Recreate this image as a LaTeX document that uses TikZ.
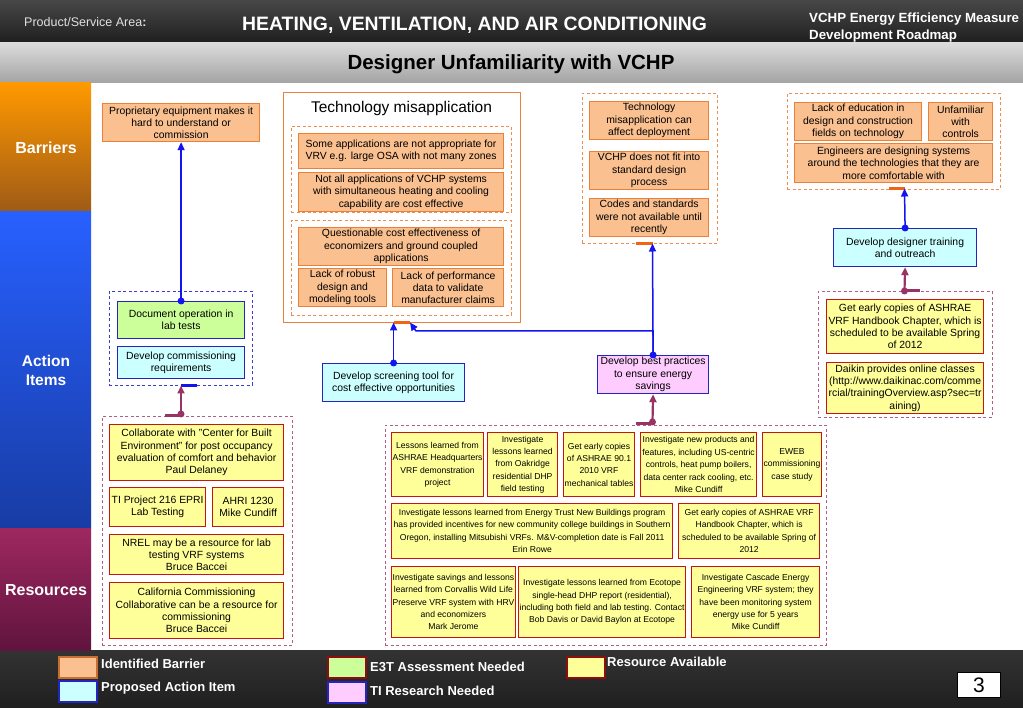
\documentclass[tikz,border=0pt]{standalone}
\usepackage{fontspec}
\setmainfont{Liberation Sans}
\usetikzlibrary{arrows.meta}

\definecolor{barfill}{RGB}{250,192,144}
\definecolor{bardraw}{RGB}{236,128,56}
\definecolor{barmark}{RGB}{240,100,20}
\definecolor{actfill}{RGB}{204,255,255}
\definecolor{actdraw}{RGB}{36,36,190}
\definecolor{e3tfill}{RGB}{204,255,153}
\definecolor{tifill}{RGB}{255,204,255}
\definecolor{resfill}{RGB}{255,255,153}
\definecolor{resdraw}{RGB}{200,20,20}
\definecolor{linkblue}{RGB}{20,20,240}
\definecolor{linkmaroon}{RGB}{153,51,102}
\definecolor{grpblue}{RGB}{60,60,210}
\definecolor{grpmaroon}{RGB}{175,95,135}
\definecolor{grporange}{RGB}{240,140,80}

\begin{document}
\begin{tikzpicture}[x=1pt,y=-1pt,
  box/.style={draw, line width=1.2pt, anchor=north west, align=center, inner sep=1pt,
    font=\fontsize{10.4}{12.3}\selectfont},
  sz/.style 2 args={minimum width=#1, minimum height=#2},
  barrier/.style={box, fill=barfill, draw=bardraw},
  action/.style={box, fill=actfill, draw=actdraw},
  e3t/.style={box, fill=e3tfill, draw=actdraw},
  tires/.style={box, fill=tifill, draw=actdraw},
  resource/.style={box, fill=resfill, draw=resdraw},
  smalltext/.style={font=\fontsize{8.6}{12.4}\selectfont},
  grp/.style={draw, dashed, dash pattern=on 3pt off 2.5pt, line width=0.9pt, anchor=north west},
  obar/.style={barmark, line width=3.5pt},
  bbar/.style={linkblue, line width=3.5pt},
  mbar/.style={linkmaroon, line width=3pt},
  blink/.style={linkblue, line width=1.5pt, -{Triangle[length=8pt,width=7pt]}},
  mlink/.style={linkmaroon, line width=2.2pt, -{Triangle[length=8pt,width=7pt]}},
  bandtext/.style={text=white, align=center, font=\bfseries\fontsize{16}{19}\selectfont},
  swatch/.style={draw, line width=1.5pt, anchor=north west},
  legtext/.style={anchor=west, inner sep=0pt, text=white, font=\bfseries\fontsize{13}{15}\selectfont}]
\useasboundingbox (0,0) rectangle (1023,708);

% page bands
\fill[white] (0,0) rectangle (1023,708);
\shade[top color=black!72, bottom color=black!88] (0,0) rectangle (1023,43);
\shade[top color=black!14, bottom color=black!36] (0,43) rectangle (1023,83);
\shade[top color=black!80, bottom color=black!88] (0,650) rectangle (1023,708);
\shade[top color={rgb,255:red,255;green,153;blue,0}, bottom color={rgb,255:red,158;green,90;blue,22}] (0,83) rectangle (91,212);
\shade[top color={rgb,255:red,40;green,96;blue,255}, bottom color={rgb,255:red,24;green,60;blue,165}] (0,212) rectangle (91,528);
\shade[top color={rgb,255:red,158;green,40;blue,96}, bottom color={rgb,255:red,96;green,20;blue,62}] (0,528) rectangle (91,650);

% titles
\node[anchor=west, inner sep=0pt, text=white!88!black, font=\fontsize{12.5}{15}\selectfont] (area) at (24,22) {Product/Service Area\textbf{:}};
\node[anchor=west, inner sep=0pt, text=white, font=\bfseries\fontsize{19.4}{23}\selectfont] (hvac) at (242,25) {HEATING, VENTILATION, AND AIR CONDITIONING};
\node[anchor=west, inner sep=0pt, align=left, text=white, font=\bfseries\fontsize{13.3}{16.5}\selectfont] (roadmap) at (809,27.5) {VCHP Energy Efficiency Measure\\Development Roadmap};
\node[font=\bfseries\fontsize{20.5}{24}\selectfont] (title) at (511,64) {Designer Unfamiliarity with VCHP};
\node[bandtext] (lbarriers) at (46,148) {Barriers};
\node[bandtext, font=\bfseries\fontsize{15.5}{19}\selectfont] (lactions) at (46,370) {Action\\Items};
\node[bandtext] (lresources) at (46,590) {Resources};

% barriers
\node[barrier, sz={157}{38}] (b1) at (102,103) {Proprietary equipment makes it\\hard to understand or\\commission};
\node[box, draw=bardraw, sz={237}{230}] (tech) at (283,92) {};
\node[font=\fontsize{15.5}{18}\selectfont] (techtitle) at (401.5,108) {Technology misapplication};
\node[grp, draw=grporange, sz={220}{86}] (tg1) at (291,126) {};
\node[grp, draw=grporange, sz={220}{95}] (tg2) at (291,220) {};
\node[barrier, sz={205}{35}] (t1) at (298,133) {Some applications are not appropriate for\\VRV e.g. large OSA with not many zones};
\node[barrier, sz={205}{39}] (t2) at (298,172) {Not all applications of VCHP systems\\with simultaneous heating and cooling\\capability are cost effective};
\node[barrier, sz={205}{38}] (t3) at (298,227) {Questionable cost effectiveness of\\economizers and ground coupled\\applications};
\node[barrier, sz={88}{38}] (t4) at (298,268) {Lack of robust\\design and\\modeling tools};
\node[barrier, sz={111}{38}] (t5) at (392,268) {Lack of performance\\data to validate\\manufacturer claims};

\node[grp, draw=grporange, sz={135}{150}] (g3) at (582,93) {};
\node[barrier, sz={119}{38}] (g3a) at (589,101) {Technology\\misapplication can\\affect deployment};
\node[barrier, sz={119}{38}] (g3b) at (589,151) {VCHP does not fit into\\standard design\\process};
\node[barrier, sz={119}{38}] (g3c) at (589,198) {Codes and standards\\were not available until\\recently};

\node[grp, draw=grporange, sz={213}{96}] (g4) at (787,93) {};
\node[barrier, sz={127}{38}] (g4a) at (794,102) {Lack of education in\\design and construction\\fields on technology};
\node[barrier, sz={64}{38}] (g4b) at (928,102) {Unfamiliar\\with\\controls};
\node[barrier, sz={198}{39}] (g4c) at (794,143) {Engineers are designing systems\\around the technologies that they are\\more comfortable with};

% action items
\node[grp, draw=grpblue, sz={143}{94}] (agrp) at (109,291) {};
\node[e3t, sz={127}{37}] (doc) at (117,301) {Document operation in\\lab tests};
\node[action, sz={127}{32}] (com) at (117,346) {Develop commissioning\\requirements};
\node[action, sz={142}{38}] (scr) at (322,363) {Develop screening tool for\\cost effective opportunities};
\node[tires, sz={111}{38}] (bp) at (597,355) {Develop best practices\\to ensure energy\\savings};
\node[action, sz={143}{38}] (train) at (833,228) {Develop designer training\\and outreach};

% resources
\node[grp, draw=grpmaroon, sz={190}{229}] (r1) at (102,416) {};
\node[resource, sz={174}{56}] (c1) at (109,424) {Collaborate with "Center for Built\\Environment" for post occupancy\\evaluation of comfort and behavior\\Paul Delaney};
\node[resource, sz={96}{39}] (c2) at (109,487) {TI Project 216 EPRI\\Lab Testing};
\node[resource, sz={71}{39}] (c3) at (212,487) {AHRI 1230\\Mike Cundiff};
\node[resource, sz={174}{40}] (c4) at (109,534) {NREL may be a resource for lab\\testing VRF systems\\Bruce Baccei};
\node[resource, sz={174}{56}] (c5) at (109,582) {California Commissioning\\Collaborative can be a resource for\\commissioning\\Bruce Baccei};

\node[grp, draw=grpmaroon, sz={441}{220}] (r2) at (385,425) {};
\node[resource, smalltext, sz={89}{64}] (d1) at (391,432) {Lessons learned from\\ASHRAE Headquarters\\VRF demonstration\\project};
\node[resource, smalltext, sz={70}{64}] (d2) at (487,432) {Investigate\\lessons learned\\from Oakridge\\residential DHP\\field testing};
\node[resource, smalltext, sz={70}{64}] (d3) at (563,432) {Get early copies\\of ASHRAE 90.1\\2010 VRF\\mechanical tables};
\node[resource, smalltext, sz={116}{64}] (d4) at (640,432) {Investigate new products and\\features, including US-centric\\controls, heat pump boilers,\\data center rack cooling, etc.\\Mike Cundiff};
\node[resource, smalltext, sz={57}{64}] (d5) at (762,432) {EWEB\\commissioning\\case study};
\node[resource, smalltext, sz={281}{55}] (d6) at (391,503) {Investigate lessons learned from Energy Trust New Buildings program\\has provided incentives for new community college buildings in Southern\\Oregon, installing Mitsubishi VRFs. M\&V-completion date is Fall 2011\\Erin Rowe};
\node[resource, smalltext, sz={141}{55}] (d7) at (678,503) {Get early copies of ASHRAE VRF\\Handbook Chapter, which is\\scheduled to be available Spring of\\2012};
\node[resource, smalltext, sz={121}{71}] (d8) at (391,566) {Investigate savings and lessons\\learned from Corvallis Wild Life\\Preserve VRF system with HRV\\and economizers\\Mark Jerome};
\node[resource, smalltext, sz={167}{71}] (d9) at (518,566) {Investigate lessons learned from Ecotope\\single-head DHP report (residential),\\including both field and lab testing. Contact\\Bob Davis or David Baylon at Ecotope};
\node[resource, smalltext, sz={128}{71}] (d10) at (691,566) {Investigate Cascade Energy\\Engineering VRF system; they\\have been monitoring system\\energy use for 5 years\\Mike Cundiff};

\node[grp, draw=grpmaroon, sz={174}{126}] (r4) at (818,291) {};
\node[resource, sz={157}{54}] (e1) at (826,299) {Get early copies of ASHRAE\\VRF Handbook Chapter, which is\\scheduled to be available Spring\\of 2012};
\node[resource, sz={157}{51}] (e2) at (826,362) {Daikin provides online classes\\(http://www.daikinac.com/comme\\rcial/trainingOverview.asp?sec=tr\\aining)};

% group markers
\coordinate (tbarL) at (394,322.5);
\coordinate (tbarR) at (410,322.5);
\coordinate (g3barL) at (636,243.5);
\coordinate (g3barR) at (652.5,243.5);
\coordinate (g4barL) at (889,188.5);
\coordinate (g4barR) at (904.5,188.5);
\coordinate (abarL) at (181,385.5);
\coordinate (abarR) at (197,385.5);
\draw[obar] (tbarL) -- (tbarR);
\draw[obar] (g3barL) -- (g3barR);
\draw[obar] (g4barL) -- (g4barR);
\draw[bbar] (abarL) -- (abarR);

% action -> barrier
\draw[blink] (doc.north) -- (b1.south);
\draw[blink] (scr.north) -- (scr.north |- tbarL);
\draw[blink] (bp.north) -- (g3barR);
\coordinate (tjog) at (416,331);
\draw[blink] (bp.north) |- (tjog) -- (tbarR);
\draw[blink] (train.north) -- (g4barR);
\foreach \n in {doc,scr,bp,train}
  \fill[linkblue] (\n.north) circle (3.5pt);

% resource -> action
\coordinate (r1port) at (181,414);
\coordinate (r2port) at (652.5,422);
\coordinate (r4port) at (904.5,291);
\draw[mbar] (165,416) -- (r1port |- 0,416);
\draw[mbar] (636,424) -- (r2port |- 0,424);
\draw[mbar] (r4port) -- (920,291);
\draw[mlink] (r1port) -- (abarL);
\draw[mlink] (r2port) -- (bp.south);
\draw[mlink] (r4port) -- (train.south);
\foreach \p in {r1port,r2port,r4port}
  \fill[linkmaroon] (\p) circle (3.5pt);

% legend
\node[swatch, fill=barfill, draw=bardraw!85!black, sz={38}{21}] (lg1) at (58,656) {};
\node[swatch, fill=actfill, draw=actdraw, sz={38}{21}] (lg2) at (58,680) {};
\node[swatch, fill=e3tfill, draw=resdraw!70!black, sz={38}{21}] (lg3) at (327,656) {};
\node[swatch, fill=tifill, draw=actdraw, sz={38}{21}] (lg4) at (327,681) {};
\node[swatch, fill=resfill, draw=resdraw!70!black, sz={38}{21}] (lg5) at (566,656) {};
\node[legtext] (lt1) at (101,664) {Identified Barrier};
\node[legtext] (lt2) at (101,688) {Proposed Action Item};
\node[legtext] (lt3) at (370,667) {E3T Assessment Needed};
\node[legtext] (lt4) at (370,691) {TI Research Needed};
\node[legtext] (lt5) at (607,662) {Resource Available};
\node[box, fill=white, draw=black, line width=0.8pt, sz={43}{25}, font=\fontsize{21}{23}\selectfont] (page) at (957,672) {3};
\end{tikzpicture}
\end{document}
